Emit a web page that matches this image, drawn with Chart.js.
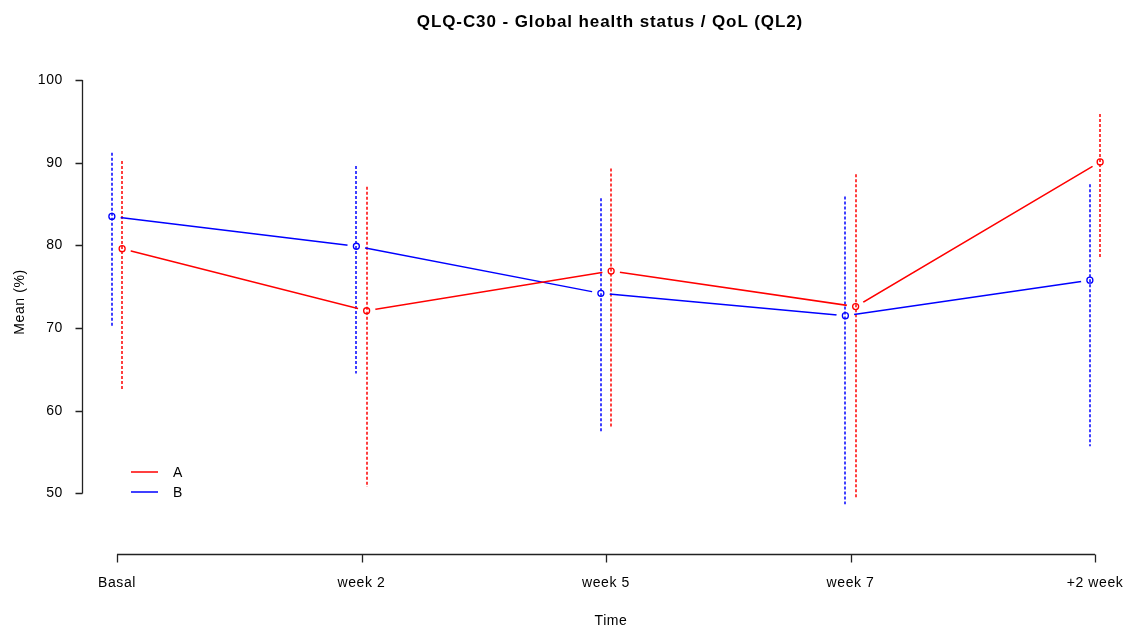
<!DOCTYPE html>
<html>
<head>
<meta charset="utf-8">
<title>QLQ-C30 - Global health status / QoL (QL2)</title>
<script src="https://cdn.jsdelivr.net/npm/chart.js@4.4.1/dist/chart.umd.min.js"></script>
<style>
  html, body { margin: 0; padding: 0; background: #ffffff; }
  canvas { display: block; }
</style>
</head>
<body>
<canvas id="chart" width="1127" height="628"></canvas>
<script>
// Time points
const categories = ['Basal', 'week 2', 'week 5', 'week 7', '+2 week'];

// Group A: mean and interval limits (%)
const meanA = [79.6, 72.1, 76.9, 72.6, 90.1];
const lowA  = [62.5, 50.8, 57.9, 49.4, 78.6];
const highA = [90.2, 87.1, 89.3, 88.6, 95.9];

// Group B: mean and interval limits (%)
const meanB = [83.5, 79.9, 74.2, 71.5, 75.8];
const lowB  = [70.2, 64.5, 57.3, 48.7, 55.7];
const highB = [91.2, 89.6, 85.7, 85.9, 87.4];

const seriesNames = ['A', 'B'];
const yTicks = [50, 60, 70, 80, 90, 100];

const chartTitle = 'QLQ-C30 - Global health status / QoL (QL2)';
const xTitle = 'Time';
const yTitle = 'Mean (%)';

const RED = '#ff0000';
const BLUE = '#0000ff';
const FONT = '"Liberation Sans", Arial, sans-serif';

// small horizontal dodge so the two groups don't overlap
const DODGE = 0.021;
const ptsA = meanA.map((v, i) => ({ x: i + DODGE, y: v }));
const ptsB = meanB.map((v, i) => ({ x: i - DODGE, y: v }));

const groups = [
  { name: seriesNames[0], color: RED,  offset: DODGE,  low: lowA, high: highA },
  { name: seriesNames[1], color: BLUE, offset: -DODGE, low: lowB, high: highB }
];

// Slightly wider glyph spacing for all canvas text
const textSpacing = {
  id: 'textSpacing',
  beforeDraw(chart) { chart.ctx.save(); chart.ctx.letterSpacing = '0.6px'; },
  afterDraw(chart) { chart.ctx.restore(); }
};

// Dotted vertical interval bars behind the lines
const intervalBars = {
  id: 'intervalBars',
  beforeDatasetsDraw(chart) {
    const { ctx, scales: { x, y } } = chart;
    ctx.save();
    ctx.lineWidth = 1.5;
    ctx.setLineDash([3, 2]);
    groups.forEach(g => {
      ctx.strokeStyle = g.color;
      g.low.forEach((lo, i) => {
        const px = Math.round(x.getPixelForValue(i + g.offset));
        ctx.beginPath();
        ctx.moveTo(px, y.getPixelForValue(g.high[i]));
        ctx.lineTo(px, y.getPixelForValue(lo));
        ctx.stroke();
      });
    });
    ctx.restore();
  }
};

// Leave a small gap in the connecting lines around each point marker
const GAP = 9;
const lineGaps = {
  id: 'lineGaps',
  beforeDatasetDraw(chart, args) {
    const ds = chart.data.datasets[args.index];
    if (!ds.gapLine) return;
    const { ctx } = chart;
    ctx.save();
    ctx.beginPath();
    ctx.rect(0, 0, chart.width, chart.height);
    args.meta.data.forEach(p => {
      ctx.moveTo(p.x + GAP, p.y);
      ctx.arc(p.x, p.y, GAP, 0, Math.PI * 2);
    });
    ctx.clip('evenodd');
  },
  afterDatasetDraw(chart, args) {
    const ds = chart.data.datasets[args.index];
    if (!ds.gapLine) return;
    chart.ctx.restore();
  }
};

// Axis lines spanning only the tick range, outward tick marks, titles and legend
const frame = {
  id: 'frame',
  afterDraw(chart) {
    const { ctx, chartArea, scales: { x, y } } = chart;
    ctx.save();
    ctx.strokeStyle = '#222222';
    ctx.lineWidth = 1.3;
    ctx.setLineDash([]);

    // left axis
    const ax = chartArea.left + 0.5;
    ctx.beginPath();
    ctx.moveTo(ax, y.getPixelForValue(yTicks[0]));
    ctx.lineTo(ax, y.getPixelForValue(yTicks[yTicks.length - 1]));
    yTicks.forEach(t => {
      const py = Math.round(y.getPixelForValue(t)) + 0.5;
      ctx.moveTo(ax, py);
      ctx.lineTo(ax - 7, py);
    });
    ctx.stroke();

    // bottom axis
    const by = chartArea.bottom + 0.5;
    ctx.beginPath();
    ctx.moveTo(x.getPixelForValue(0), by);
    ctx.lineTo(x.getPixelForValue(categories.length - 1), by);
    categories.forEach((c, i) => {
      const px = Math.round(x.getPixelForValue(i)) + 0.5;
      ctx.moveTo(px, by);
      ctx.lineTo(px, by + 8);
    });
    ctx.stroke();

    const cx = (x.getPixelForValue(0) + x.getPixelForValue(categories.length - 1)) / 2 + 4;

    // main title
    ctx.fillStyle = '#000000';
    ctx.letterSpacing = '0.9px';
    ctx.font = 'bold 17px ' + FONT;
    ctx.textAlign = 'center';
    ctx.textBaseline = 'middle';
    ctx.fillText(chartTitle, cx, 22);

    // x axis title
    ctx.letterSpacing = '0.6px';
    ctx.font = '14px ' + FONT;
    ctx.fillText(xTitle, cx + 1, 621);

    // legend in the lower-left corner of the plot
    ctx.textAlign = 'left';
    groups.forEach((g, k) => {
      const ly = 472 + k * 20;
      ctx.strokeStyle = g.color;
      ctx.lineWidth = 1.5;
      ctx.beginPath();
      ctx.moveTo(131, ly);
      ctx.lineTo(158, ly);
      ctx.stroke();
      ctx.fillStyle = '#000000';
      ctx.fillText(g.name, 173, ly + 1);
    });
    ctx.restore();
  }
};

new Chart(document.getElementById('chart'), {
  type: 'scatter',
  data: {
    datasets: [
      { label: seriesNames[0], data: ptsA, showLine: true, gapLine: true,
        borderColor: RED, borderWidth: 1.5, pointRadius: 0, pointHoverRadius: 0 },
      { label: seriesNames[1], data: ptsB, showLine: true, gapLine: true,
        borderColor: BLUE, borderWidth: 1.5, pointRadius: 0, pointHoverRadius: 0 },
      { label: seriesNames[0], data: ptsA, showLine: false,
        pointStyle: 'circle', pointRadius: 3, pointBorderWidth: 1.3,
        pointBorderColor: RED, pointBackgroundColor: 'rgba(255,255,255,0)' },
      { label: seriesNames[1], data: ptsB, showLine: false,
        pointStyle: 'circle', pointRadius: 3, pointBorderWidth: 1.3,
        pointBorderColor: BLUE, pointBackgroundColor: 'rgba(255,255,255,0)' }
    ]
  },
  options: {
    responsive: false,
    animation: false,
    events: [],
    layout: { padding: { top: 50, left: 0, right: 7, bottom: 0 } },
    plugins: {
      legend: { display: false },
      title: { display: false },
      tooltip: { enabled: false }
    },
    scales: {
      x: {
        type: 'linear',
        min: -0.14315,
        max: 4.1022,
        grid: { display: false, drawTicks: false },
        border: { display: false },
        afterBuildTicks: s => { s.ticks = categories.map((c, i) => ({ value: i })); },
        afterFit: s => { s.height = 74; s.paddingLeft = 0; s.paddingRight = 0; },
        ticks: {
          autoSkip: false,
          maxRotation: 0,
          padding: 21,
          color: '#000000',
          font: { family: FONT, size: 14 },
          callback: v => categories[v]
        },
        title: { display: false }
      },
      y: {
        type: 'linear',
        min: 42.684,
        max: 103.628,
        grid: { display: false, drawTicks: false },
        border: { display: false },
        afterBuildTicks: s => { s.ticks = yTicks.map(v => ({ value: v })); },
        afterFit: s => { s.width = 82; s.paddingTop = 0; s.paddingBottom = 0; },
        ticks: {
          padding: 19,
          color: '#000000',
          font: { family: FONT, size: 14 },
          callback: v => String(v)
        },
        title: {
          display: true,
          text: yTitle,
          color: '#000000',
          font: { family: FONT, size: 14 },
          padding: { top: 12, bottom: 0 }
        }
      }
    }
  },
  plugins: [textSpacing, intervalBars, lineGaps, frame]
});
</script>
</body>
</html>
